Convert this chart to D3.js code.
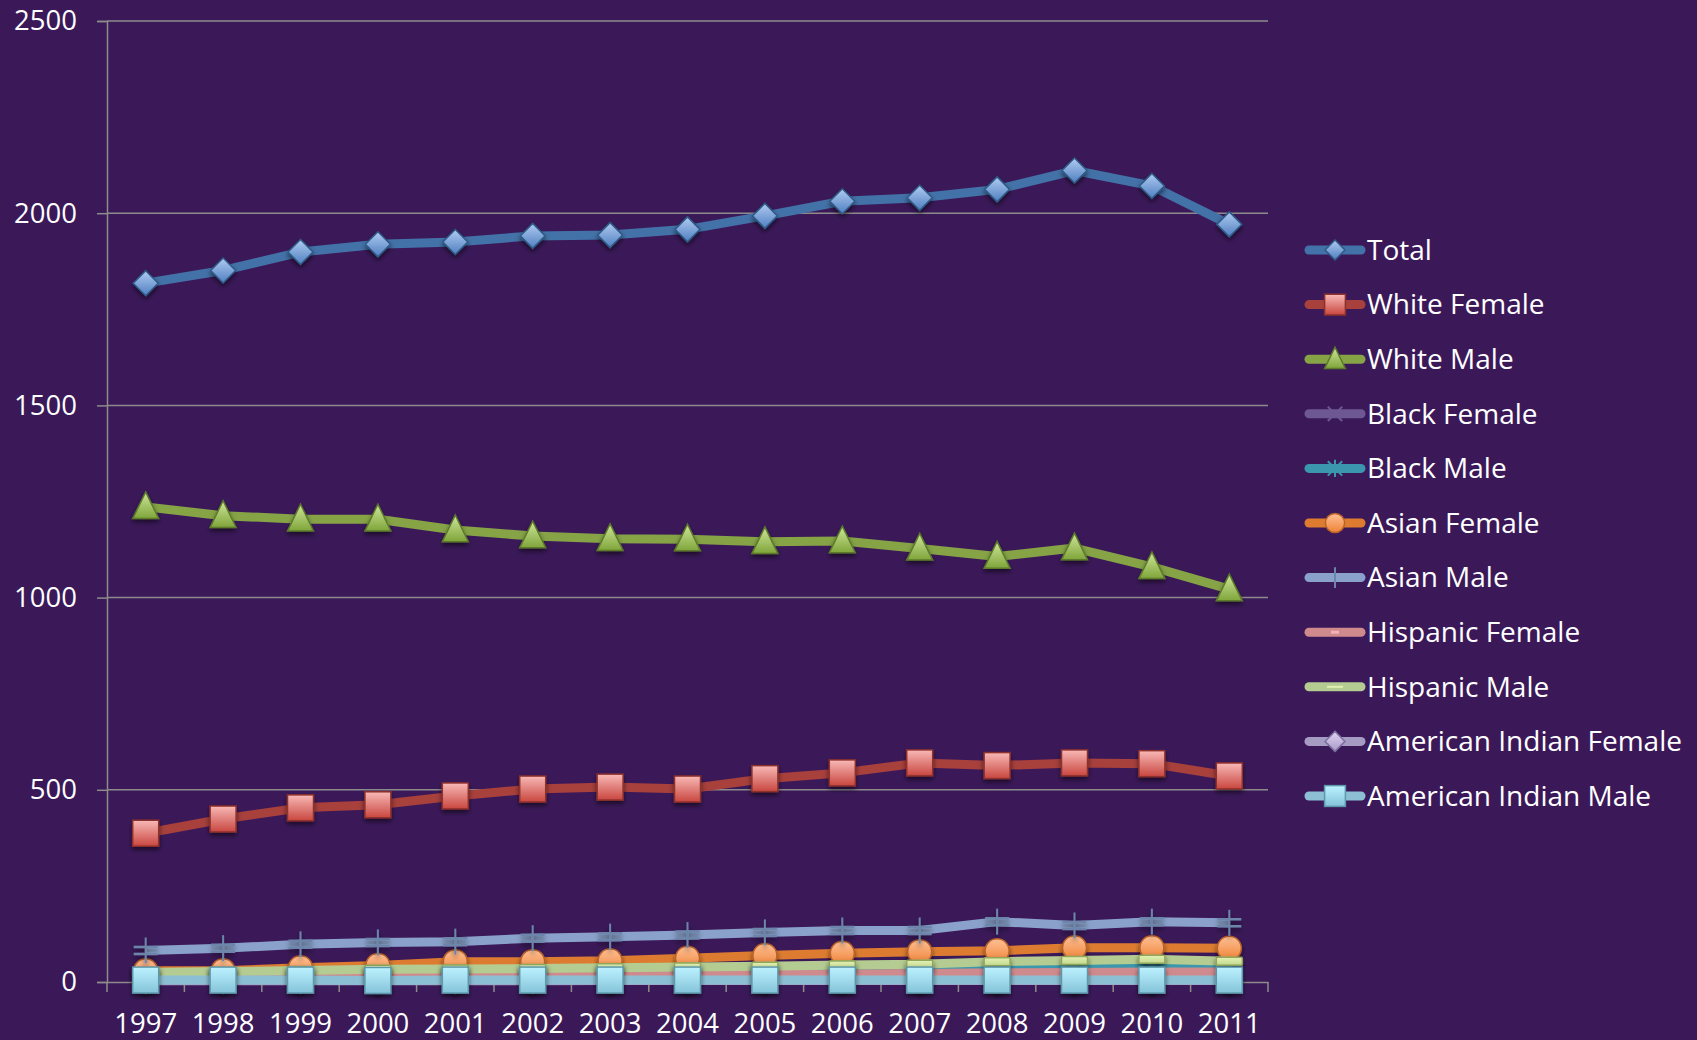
<!DOCTYPE html>
<html>
<head>
<meta charset="utf-8">
<script src="https://cdn.jsdelivr.net/npm/d3@7"></script>
<style>
  body { margin: 0; background: #3b1959; }
  svg { display: block; font-family: "Open Sans", sans-serif; }
  .axis text { fill: #fff; font-size: 27.5px; font-family: "Open Sans", sans-serif; }
  .legendText { fill: #fff; font-size: 28px; }
</style>
</head>
<body>
<div id="chart"></div>
<script>

var years = ["1997","1998","1999","2000","2001","2002","2003","2004","2005","2006","2007","2008","2009","2010","2011"];
var yTicks = [0, 500, 1000, 1500, 2000, 2500];

var total          = [1818,1851,1899,1919,1925,1941,1943,1958,1993,2031,2040,2062,2111,2071,1971];
var whiteFemale    = [387,424,453,461,484,502,507,502,529,544,570,563,570,568,536];
var whiteMale      = [1236,1213,1204,1204,1176,1160,1153,1152,1145,1147,1128,1107,1129,1080,1022];
var blackFemale    = [18,18,19,20,21,22,23,24,25,26,27,29,31,33,33];
var blackMale      = [22,22,22,23,24,25,26,27,28,30,31,33,36,38,38];
var asianFemale    = [29,29,37,43,53,53,55,62,69,75,79,81,89,89,88];
var asianMale      = [82,88,98,103,105,114,118,122,129,134,134,157,147,157,154];
var hispanicFemale = [12,13,14,15,16,17,18,19,20,21,22,24,25,26,26];
var hispanicMale   = [25,27,30,33,34,35,37,39,41,44,46,53,56,59,54];
var amIndFemale    = [3,3,3,3,3,3,4,4,4,4,4,4,4,4,4];
var amIndMale      = [5,5,5,4,5,5,5,5,5,5,5,5,5,5,5];

var series = [
  {name: "Total", values: total, line: "#4372a8", marker: "diamond", c1: "#b0cbf2", c2: "#4f7fc0", edge: "#2f5a86"},
  {name: "White Female", values: whiteFemale, line: "#a8403c", marker: "square", c1: "#f8b9b7", c2: "#c9463f", edge: "#8c302c"},
  {name: "White Male", values: whiteMale, line: "#86a446", marker: "triangle", c1: "#cfe69a", c2: "#7fa53a", edge: "#5c7a2a"},
  {name: "Black Female", values: blackFemale, line: "#6e5894", marker: "x", c1: "#8c76b0", c2: "#6e5894", edge: "#6e5894"},
  {name: "Black Male", values: blackMale, line: "#3a97ad", marker: "star", c1: "#4bacc6", c2: "#3a97ad", edge: "#3a97ad"},
  {name: "Asian Female", values: asianFemale, line: "#dd7c30", marker: "circle", c1: "#ffc196", c2: "#ee8236", edge: "#b8622a"},
  {name: "Asian Male", values: asianMale, line: "#8aa2cb", marker: "plus", c1: "#8aa2cb", c2: "#6d85aa", edge: "#6d85aa"},
  {name: "Hispanic Female", values: hispanicFemale, line: "#cf8a8d", marker: "dash", c1: "#f3b3b6", c2: "#e59da1", edge: "#e59da1"},
  {name: "Hispanic Male", values: hispanicMale, line: "#b4cb91", marker: "bar", c1: "#e3f0b4", c2: "#c3d98e", edge: "#8fa65b"},
  {name: "American Indian Female", values: amIndFemale, line: "#a69bc2", marker: "diamond", c1: "#e0d6f2", c2: "#a898c8", edge: "#7e70a0"},
  {name: "American Indian Male", values: amIndMale, line: "#8cbfd3", marker: "square", c1: "#bdf2ff", c2: "#84c3d9", edge: "#5d97ab"}
];

var width = 1697, height = 1040;
var plot = {left: 107, right: 1268, top: 21, bottom: 982};

var svg = d3.select("#chart").append("svg")
  .attr("width", width)
  .attr("height", height);

var defs = svg.append("defs");
var shadow = defs.append("filter").attr("id", "shadow")
  .attr("x", "-50%").attr("y", "-50%").attr("width", "200%").attr("height", "200%");
shadow.append("feDropShadow")
  .attr("dx", 0).attr("dy", 3).attr("stdDeviation", 2.5)
  .attr("flood-color", "#000").attr("flood-opacity", 0.55);

series.forEach(function(s, i) {
  var grad = defs.append("linearGradient").attr("id", "grad" + i)
    .attr("x1", 0).attr("y1", 0).attr("x2", 0).attr("y2", 1);
  grad.append("stop").attr("offset", "0%").attr("stop-color", s.c1);
  grad.append("stop").attr("offset", "100%").attr("stop-color", s.c2);
});

var xScale = d3.scaleBand()
  .domain(years)
  .range([plot.left, plot.right]);

var yScale = d3.scaleLinear()
  .domain([0, 2500])
  .range([plot.bottom, plot.top]);

// gridlines
svg.append("g")
  .selectAll("line")
  .data(yTicks.slice(1))
  .enter()
  .append("line")
  .attr("x1", plot.left)
  .attr("x2", plot.right)
  .attr("y1", function(d) { return yScale(d); })
  .attr("y2", function(d) { return yScale(d); })
  .attr("stroke", "#8c8c8c")
  .attr("stroke-width", 1.5);

var yAxis = svg.append("g")
  .attr("class", "axis")
  .attr("transform", "translate(" + plot.left + ",0)")
  .call(d3.axisLeft(yScale).tickValues(yTicks).tickFormat(d3.format("d")).tickSize(10).tickPadding(20));
yAxis.selectAll("line, path").attr("stroke", "#8c8c8c").attr("stroke-width", 1.5);

var xAxis = svg.append("g")
  .attr("class", "axis")
  .attr("transform", "translate(0," + plot.bottom + ")")
  .call(d3.axisBottom(xScale).tickSize(0).tickPadding(31));
xAxis.select("path").attr("stroke", "#8c8c8c").attr("stroke-width", 1.5);

xAxis.selectAll(".bound")
  .data(years.concat(["end"]))
  .enter()
  .append("line")
  .attr("class", "bound")
  .attr("x1", function(d) { return d === "end" ? plot.right : xScale(d); })
  .attr("x2", function(d) { return d === "end" ? plot.right : xScale(d); })
  .attr("y1", 0)
  .attr("y2", 10)
  .attr("stroke", "#8c8c8c")
  .attr("stroke-width", 1.5);

function drawMarker(sel, s, i, k) {
  var fill = "url(#grad" + i + ")";
  if (s.marker === "diamond") {
    var d = 12.5 * k;
    sel.append("path").attr("d", "M0," + (-d) + "L" + d + ",0L0," + d + "L" + (-d) + ",0Z")
      .attr("fill", fill).attr("stroke", s.edge).attr("stroke-width", 1.5);
  } else if (s.marker === "square") {
    var h = 13 * k;
    sel.append("rect").attr("x", -h).attr("y", -h).attr("width", 2 * h).attr("height", 2 * h)
      .attr("fill", fill).attr("stroke", s.edge).attr("stroke-width", 1.5);
  } else if (s.marker === "triangle") {
    var t = 13 * k;
    sel.append("path").attr("d", "M0," + (-t * 1.15) + "L" + t + "," + t * 0.9 + "L" + (-t) + "," + t * 0.9 + "Z")
      .attr("fill", fill).attr("stroke", s.edge).attr("stroke-width", 1.5);
  } else if (s.marker === "circle") {
    sel.append("circle").attr("r", 12 * k)
      .attr("fill", fill).attr("stroke", s.edge).attr("stroke-width", 1.5);
  } else if (s.marker === "x") {
    var a = 9 * k;
    sel.append("path").attr("d", "M" + (-a) + "," + (-a) + "L" + a + "," + a + "M" + a + "," + (-a) + "L" + (-a) + "," + a)
      .attr("stroke", s.edge).attr("stroke-width", 2).attr("fill", "none");
  } else if (s.marker === "star") {
    var b = 9 * k;
    sel.append("path").attr("d", "M" + (-b) + "," + (-b) + "L" + b + "," + b + "M" + b + "," + (-b) + "L" + (-b) + "," + b + "M0," + (-b * 1.2) + "L0," + b * 1.2)
      .attr("stroke", s.edge).attr("stroke-width", 2).attr("fill", "none");
  } else if (s.marker === "plus") {
    var p = 13 * k;
    if (k === 1) {
      sel.append("path").attr("d", "M-12,-3.5L12,-3.5M-12,3.5L12,3.5")
        .attr("stroke", s.edge).attr("stroke-width", 2.5).attr("fill", "none");
    }
    sel.append("path").attr("d", "M0," + (-p) + "L0," + p)
      .attr("stroke", s.edge).attr("stroke-width", 2).attr("fill", "none");
  } else if (s.marker === "dash") {
    sel.append("rect").attr("x", -5 * k).attr("y", -1.5).attr("width", 10 * k).attr("height", 3)
      .attr("fill", s.c1);
  } else if (s.marker === "bar") {
    if (k === 1) {
      sel.append("rect").attr("x", -13).attr("y", -4).attr("width", 26).attr("height", 8).attr("rx", 1)
        .attr("fill", fill).attr("stroke", s.edge).attr("stroke-width", 1.5);
    } else {
      sel.append("rect").attr("x", -8).attr("y", -1).attr("width", 16).attr("height", 2)
        .attr("fill", "#e3f0b4");
    }
  }
}

var line = d3.line()
  .x(function(d, j) { return xScale(years[j]) + xScale.bandwidth() / 2; })
  .y(function(d) { return yScale(d); });

series.forEach(function(s, i) {
  var g = svg.append("g");
  g.append("path")
    .datum(s.values)
    .attr("d", line)
    .attr("fill", "none")
    .attr("stroke", s.line)
    .attr("stroke-width", 9)
    .attr("stroke-linejoin", "round");

  g.selectAll(".mk")
    .data(s.values)
    .enter()
    .append("g")
    .attr("class", "mk")
    .attr("filter", (s.marker === "dash") ? null : "url(#shadow)")
    .attr("transform", function(d, j) {
      return "translate(" + (xScale(years[j]) + xScale.bandwidth() / 2) + "," + yScale(d) + ")";
    })
    .each(function() { drawMarker(d3.select(this), s, i, 1); });
});

// legend
var legend = svg.append("g");
series.forEach(function(s, i) {
  var ly = 250 + i * 54.6;
  var row = legend.append("g").attr("transform", "translate(0," + ly + ")");
  row.append("line")
    .attr("x1", 1309).attr("x2", 1361)
    .attr("stroke", s.line)
    .attr("stroke-width", 9)
    .attr("stroke-linecap", "round");
  var m = row.append("g").attr("transform", "translate(1335,0)");
  drawMarker(m, s, i, 0.8);
  row.append("text")
    .attr("class", "legendText")
    .attr("x", 1367)
    .attr("dy", "0.35em")
    .text(s.name);
});

</script>
</body>
</html>
